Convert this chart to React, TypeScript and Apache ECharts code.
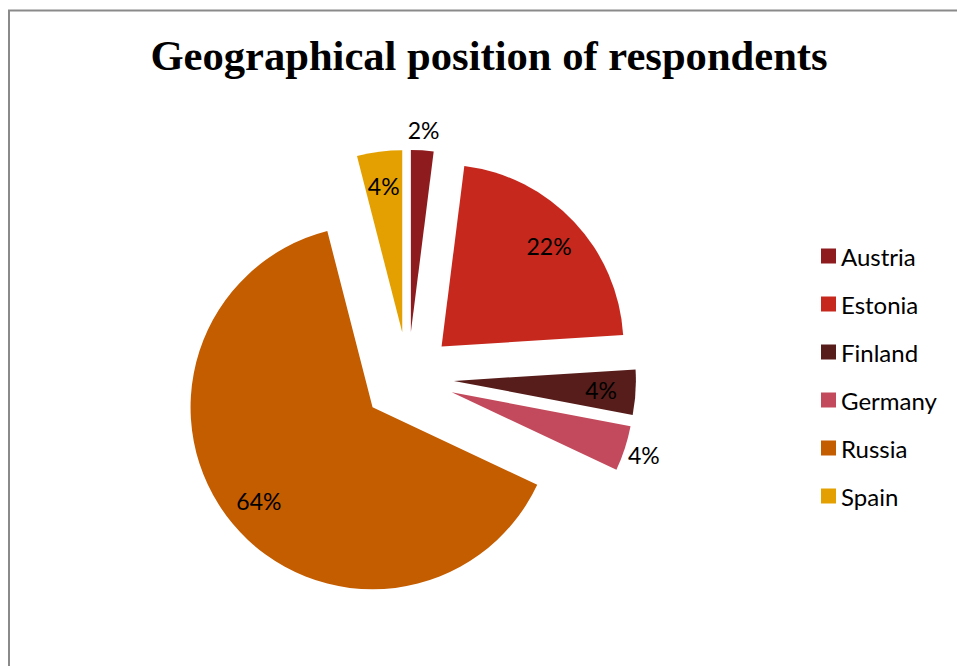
import React, { useEffect, useRef } from "react";
import * as echarts from "echarts";

// ---- data ----
const chartTitle = "Geographical position of respondents";
const categories = ["Austria", "Estonia", "Finland", "Germany", "Russia", "Spain"];
const shares = [2, 22, 4, 4, 64, 4];
// where Excel's "best fit" put each data label
const labelPlacement = ["outside", "inside", "inside", "outside", "inside", "inside"];

// ---- styles ----
const sliceColors = ["#8E1C1F", "#C6281D", "#561D1B", "#C34A5C", "#C45C00", "#E3A000"];
const SANS = "Lato, 'Open Sans', sans-serif";
const SERIF = "'Liberation Serif', 'Times New Roman', serif";
const CENTER = [408, 378];
const R = 182;
const OFFSET = 46;

export default function App() {
  const ref = useRef<HTMLDivElement>(null);

  useEffect(() => {
    if (!ref.current) return;
    const chart = echarts.init(ref.current, null, { renderer: "svg" });

    const base: any = {
      type: "pie",
      center: CENTER,
      startAngle: 90,
      clockwise: true,
      selectedMode: "multiple",
      selectedOffset: OFFSET,
      avoidLabelOverlap: false,
      minAngle: 0,
      emphasis: { disabled: true, scale: false },
      labelLine: { show: false },
    };

    const mainSeries = {
      ...base,
      name: "share",
      radius: [0, R],
      label: { show: false },
      itemStyle: { borderWidth: 0 },
      select: { itemStyle: { borderWidth: 0 } },
      data: categories.map((name, i) => ({
        name,
        value: shares[i],
        selected: true,
        itemStyle: { color: sliceColors[i] },
      })),
    };

    const labelSeries = (kind: string, radius: number[]) => ({
      ...base,
      name: "labels-" + kind,
      radius,
      silent: true,
      itemStyle: { color: "rgba(0,0,0,0)", borderWidth: 0 },
      select: { itemStyle: { color: "rgba(0,0,0,0)", borderWidth: 0 } },
      label: {
        show: true,
        position: "inside",
        formatter: "{d}%",
        fontFamily: SANS,
        fontSize: 23,
        color: "#000",
      },
      data: categories.map((name, i) => ({
        name,
        value: shares[i],
        selected: true,
        label: { show: labelPlacement[i] === kind },
      })),
    });

    chart.setOption({
      animation: false,
      backgroundColor: "#ffffff",
      legend: {
        data: categories,
        orient: "vertical",
        left: 821,
        top: 244,
        padding: 0,
        itemGap: 24,
        itemWidth: 15,
        itemHeight: 15,
        icon: "rect",
        selectedMode: false,
        textStyle: { fontFamily: SANS, fontSize: 24, color: "#000", lineHeight: 24 },
      },
      graphic: [
        {
          type: "rect",
          shape: { x: 9, y: 10.5, width: 1000, height: 700 },
          style: { fill: "none", stroke: "#8a8a8a", lineWidth: 2 },
          silent: true,
        },
        {
          type: "text",
          style: {
            text: chartTitle,
            x: 489,
            y: 34,
            textAlign: "center",
            textVerticalAlign: "top",
            fontFamily: SERIF,
            fontSize: 42.6,
            fontWeight: "bold",
            fill: "#000",
          },
        },
      ],
      series: [mainSeries, labelSeries("inside", [107, R]), labelSeries("outside", [R, 216])],
    });

    return () => chart.dispose();
  }, []);

  return (
    <div
      ref={ref}
      style={{ position: "absolute", left: 0, top: 0, width: 957, height: 666, background: "#fff" }}
    />
  );
}
